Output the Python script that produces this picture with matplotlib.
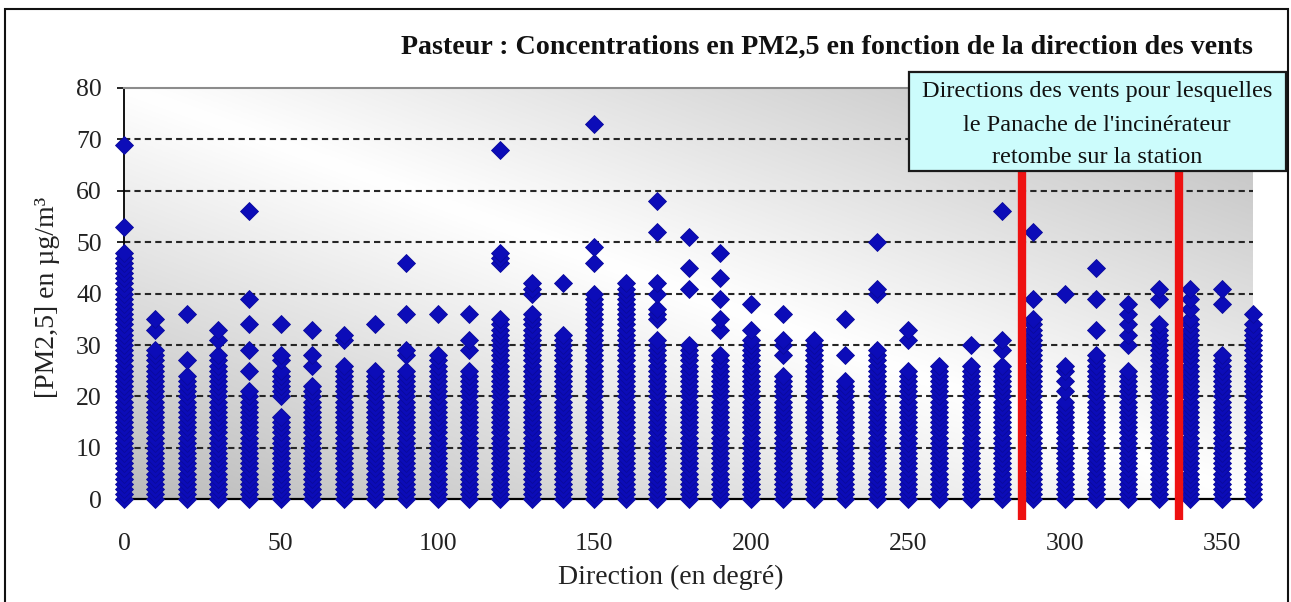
import numpy as np
import matplotlib
matplotlib.use("Agg")
import matplotlib.pyplot as plt
from matplotlib.colors import LinearSegmentedColormap
from matplotlib.patches import Rectangle

plt.rcParams['font.family'] = ['Liberation Serif', 'DejaVu Serif']

# wind direction classes (degrees)
directions = [0, 10, 20, 30, 40, 50, 60, 70, 80, 90, 100, 110, 120, 130, 140, 150, 160, 170, 180,
              190, 200, 210, 220, 230, 240, 250, 260, 270, 280, 290, 300, 310, 320, 330, 340, 350, 360]

# PM2.5 readings (µg/m3) observed for each direction class
pm25 = [
    # 0
    [0, 1, 2, 3, 4, 5, 6, 7, 8, 9, 10, 11, 12, 13, 14, 15, 16, 17, 18, 19, 20, 21, 22, 23, 24, 25,
     26, 27, 28, 29, 30, 31, 32, 33, 34, 35, 36, 37, 38, 39, 40, 41, 42, 43, 44, 45, 46, 47, 48, 53, 69],
    # 10
    [0, 1, 2, 3, 4, 5, 6, 7, 8, 9, 10, 11, 12, 13, 14, 15, 16, 17, 18, 19, 20, 21, 22, 23, 24, 25,
     26, 27, 28, 29, 33, 35],
    # 20
    [0, 1, 2, 3, 4, 5, 6, 7, 8, 9, 10, 11, 12, 13, 14, 15, 16, 17, 18, 19, 20, 21, 22, 23, 24, 27, 36],
    # 30
    [0, 1, 2, 3, 4, 5, 6, 7, 8, 9, 10, 11, 12, 13, 14, 15, 16, 17, 18, 19, 20, 21, 22, 23, 24, 25,
     26, 27, 28, 31, 33],
    # 40
    [0, 1, 2, 3, 4, 5, 6, 7, 8, 9, 10, 11, 12, 13, 14, 15, 16, 17, 18, 19, 20, 21, 25, 29, 34, 39, 56],
    # 50
    [0, 1, 2, 3, 4, 5, 6, 7, 8, 9, 10, 11, 12, 13, 14, 15, 16, 20, 21, 22, 23, 24, 25, 27, 28, 34],
    # 60
    [0, 1, 2, 3, 4, 5, 6, 7, 8, 9, 10, 11, 12, 13, 14, 15, 16, 17, 18, 19, 20, 21, 22, 26, 28, 33],
    # 70
    [0, 1, 2, 3, 4, 5, 6, 7, 8, 9, 10, 11, 12, 13, 14, 15, 16, 17, 18, 19, 20, 21, 22, 23, 24, 25,
     26, 31, 32],
    # 80
    [0, 1, 2, 3, 4, 5, 6, 7, 8, 9, 10, 11, 12, 13, 14, 15, 16, 17, 18, 19, 20, 21, 22, 23, 24, 25, 34],
    # 90
    [0, 1, 2, 3, 4, 5, 6, 7, 8, 9, 10, 11, 12, 13, 14, 15, 16, 17, 18, 19, 20, 21, 22, 23, 24, 25,
     28, 29, 36, 46],
    # 100
    [0, 1, 2, 3, 4, 5, 6, 7, 8, 9, 10, 11, 12, 13, 14, 15, 16, 17, 18, 19, 20, 21, 22, 23, 24, 25,
     26, 27, 28, 36],
    # 110
    [0, 1, 2, 3, 4, 5, 6, 7, 8, 9, 10, 11, 12, 13, 14, 15, 16, 17, 18, 19, 20, 21, 22, 23, 24, 25,
     29, 31, 36],
    # 120
    [0, 1, 2, 3, 4, 5, 6, 7, 8, 9, 10, 11, 12, 13, 14, 15, 16, 17, 18, 19, 20, 21, 22, 23, 24, 25,
     26, 27, 28, 29, 30, 31, 32, 33, 34, 35, 46, 47, 48, 68],
    # 130
    [0, 1, 2, 3, 4, 5, 6, 7, 8, 9, 10, 11, 12, 13, 14, 15, 16, 17, 18, 19, 20, 21, 22, 23, 24, 25,
     26, 27, 28, 29, 30, 31, 32, 33, 34, 35, 36, 40, 41, 42],
    # 140
    [0, 1, 2, 3, 4, 5, 6, 7, 8, 9, 10, 11, 12, 13, 14, 15, 16, 17, 18, 19, 20, 21, 22, 23, 24, 25,
     26, 27, 28, 29, 30, 31, 32, 42],
    # 150
    [0, 1, 2, 3, 4, 5, 6, 7, 8, 9, 10, 11, 12, 13, 14, 15, 16, 17, 18, 19, 20, 21, 22, 23, 24, 25,
     26, 27, 28, 29, 30, 31, 32, 33, 34, 35, 36, 37, 38, 39, 40, 46, 49, 73],
    # 160
    [0, 1, 2, 3, 4, 5, 6, 7, 8, 9, 10, 11, 12, 13, 14, 15, 16, 17, 18, 19, 20, 21, 22, 23, 24, 25,
     26, 27, 28, 29, 30, 31, 32, 33, 34, 35, 36, 37, 38, 39, 40, 41, 42],
    # 170
    [0, 1, 2, 3, 4, 5, 6, 7, 8, 9, 10, 11, 12, 13, 14, 15, 16, 17, 18, 19, 20, 21, 22, 23, 24, 25,
     26, 27, 28, 29, 30, 31, 35, 36, 37, 40, 42, 52, 58],
    # 180
    [0, 1, 2, 3, 4, 5, 6, 7, 8, 9, 10, 11, 12, 13, 14, 15, 16, 17, 18, 19, 20, 21, 22, 23, 24, 25,
     26, 27, 28, 29, 30, 41, 45, 51],
    # 190
    [0, 1, 2, 3, 4, 5, 6, 7, 8, 9, 10, 11, 12, 13, 14, 15, 16, 17, 18, 19, 20, 21, 22, 23, 24, 25,
     26, 27, 28, 33, 35, 39, 43, 48],
    # 200
    [0, 1, 2, 3, 4, 5, 6, 7, 8, 9, 10, 11, 12, 13, 14, 15, 16, 17, 18, 19, 20, 21, 22, 23, 24, 25,
     26, 27, 28, 29, 30, 31, 33, 38],
    # 210
    [0, 1, 2, 3, 4, 5, 6, 7, 8, 9, 10, 11, 12, 13, 14, 15, 16, 17, 18, 19, 20, 21, 22, 23, 24,
     28, 30, 31, 36],
    # 220
    [0, 1, 2, 3, 4, 5, 6, 7, 8, 9, 10, 11, 12, 13, 14, 15, 16, 17, 18, 19, 20, 21, 22, 23, 24, 25,
     26, 27, 28, 29, 30, 31],
    # 230
    [0, 1, 2, 3, 4, 5, 6, 7, 8, 9, 10, 11, 12, 13, 14, 15, 16, 17, 18, 19, 20, 21, 22, 23, 28, 35],
    # 240
    [0, 1, 2, 3, 4, 5, 6, 7, 8, 9, 10, 11, 12, 13, 14, 15, 16, 17, 18, 19, 20, 21, 22, 23, 24, 25,
     26, 27, 28, 29, 40, 41, 50],
    # 250
    [0, 1, 2, 3, 4, 5, 6, 7, 8, 9, 10, 11, 12, 13, 14, 15, 16, 17, 18, 19, 20, 21, 22, 23, 24, 25,
     31, 33],
    # 260
    [0, 1, 2, 3, 4, 5, 6, 7, 8, 9, 10, 11, 12, 13, 14, 15, 16, 17, 18, 19, 20, 21, 22, 23, 24, 25, 26],
    # 270
    [0, 1, 2, 3, 4, 5, 6, 7, 8, 9, 10, 11, 12, 13, 14, 15, 16, 17, 18, 19, 20, 21, 22, 23, 24, 25,
     26, 30],
    # 280
    [0, 1, 2, 3, 4, 5, 6, 7, 8, 9, 10, 11, 12, 13, 14, 15, 16, 17, 18, 19, 20, 21, 22, 23, 24, 25,
     26, 29, 31, 56],
    # 290
    [0, 1, 2, 3, 4, 5, 6, 7, 8, 9, 10, 11, 12, 13, 14, 15, 16, 17, 18, 19, 20, 21, 22, 23, 24, 25,
     26, 27, 28, 29, 30, 31, 32, 33, 34, 35, 39, 52],
    # 300
    [0, 1, 2, 3, 4, 5, 6, 7, 8, 9, 10, 11, 12, 13, 14, 15, 16, 17, 18, 19, 21, 23, 25, 26, 40],
    # 310
    [0, 1, 2, 3, 4, 5, 6, 7, 8, 9, 10, 11, 12, 13, 14, 15, 16, 17, 18, 19, 20, 21, 22, 23, 24, 25,
     26, 27, 28, 33, 39, 45],
    # 320
    [0, 1, 2, 3, 4, 5, 6, 7, 8, 9, 10, 11, 12, 13, 14, 15, 16, 17, 18, 19, 20, 21, 22, 23, 24, 25,
     30, 32, 34, 36, 38],
    # 330
    [0, 1, 2, 3, 4, 5, 6, 7, 8, 9, 10, 11, 12, 13, 14, 15, 16, 17, 18, 19, 20, 21, 22, 23, 24, 25,
     26, 27, 28, 29, 30, 31, 32, 33, 34, 39, 41],
    # 340
    [0, 1, 2, 3, 4, 5, 6, 7, 8, 9, 10, 11, 12, 13, 14, 15, 16, 17, 18, 19, 20, 21, 22, 23, 24, 25,
     26, 27, 28, 29, 30, 31, 32, 33, 34, 35, 37, 39, 41],
    # 350
    [0, 1, 2, 3, 4, 5, 6, 7, 8, 9, 10, 11, 12, 13, 14, 15, 16, 17, 18, 19, 20, 21, 22, 23, 24, 25,
     26, 27, 28, 38, 41],
    # 360
    [0, 1, 2, 3, 4, 5, 6, 7, 8, 9, 10, 11, 12, 13, 14, 15, 16, 17, 18, 19, 20, 21, 22, 23, 24, 25,
     26, 27, 28, 29, 30, 31, 32, 33, 34, 36],
]

# directions for which the incinerator plume falls back on the station
plume_bounds = [286.5, 336.3]

x_ticks = [0, 50, 100, 150, 200, 250, 300, 350]
y_ticks = [0, 10, 20, 30, 40, 50, 60, 70, 80]

W, H = 1291, 602
fig = plt.figure(figsize=(W / 100, H / 100), dpi=100)

# axes placed in pixel units
ax_l, ax_r, ax_t, ax_b = 124, 1253, 88, 499.3
ax = fig.add_axes([ax_l / W, 1 - ax_b / H, (ax_r - ax_l) / W, (ax_b - ax_t) / H])

# diagonal grey -> white -> grey plot area fill
gx, gy = np.meshgrid(np.linspace(0, 1, 300), np.linspace(0, 1, 150))
shade = np.abs(gx + gy - 1)
grey_cmap = LinearSegmentedColormap.from_list('fill', ['#ffffff', '#bbbbbb'])
ax.imshow(shade, extent=[0, 1, 0, 1], origin='lower', transform=ax.transAxes,
          cmap=grey_cmap, vmin=0, vmax=1, aspect='auto', interpolation='bilinear', zorder=0)

for v in y_ticks[1:-1]:
    ax.axhline(v, color='#262626', lw=1.5, ls=(0, (3, 2)), zorder=1)

xs = np.concatenate([[d] * len(vals) for d, vals in zip(directions, pm25)])
ys = np.concatenate(pm25)
ax.plot(xs, ys, linestyle='none', marker='D', markersize=9,
        markerfacecolor='#0c0cb8', markeredgecolor='#0a0a9c', markeredgewidth=0.6,
        clip_on=False, zorder=3)

for xb in plume_bounds:
    ax.plot([xb, xb], [-4, 64], color='#ee1111', lw=6, solid_capstyle='butt',
            clip_on=False, zorder=4)

ax.set_xlim(0, 360)
ax.set_ylim(0, 80)
ax.set_xticks(x_ticks)
ax.set_yticks(y_ticks)
ax.tick_params(axis='both', direction='out', length=5, width=1.2, labelsize=18.5)
ax.tick_params(axis='x', pad=19)
ax.tick_params(axis='y', pad=11)
for lab in ax.get_xticklabels() + ax.get_yticklabels():
    lab.set_color('#222222')

ax.spines['right'].set_visible(False)
ax.spines['top'].set_color('#8c8c8c')
ax.spines['top'].set_linewidth(1.5)
ax.spines['left'].set_linewidth(1.3)
ax.spines['bottom'].set_linewidth(1.6)

fig.text(ax_r / W, 1 - 53.5 / H,
         'Pasteur : Concentrations en PM2,5 en fonction de la direction des vents',
         ha='right', va='baseline', fontsize=20.2, fontweight='bold', color='#111111')
fig.text(670.5 / W, 1 - 584 / H, 'Direction (en degré)', ha='center', va='baseline',
         fontsize=20, color='#222222')
fig.text(47 / W, 1 - 297 / H, '[PM2,5] en µg/m³', rotation=90, ha='center', va='center',
         fontsize=20, color='#222222')

# callout box
bx0, bx1, by0, by1 = 909, 1286, 72, 171
fig.patches.append(Rectangle((bx0 / W, 1 - by1 / H), (bx1 - bx0) / W, (by1 - by0) / H,
                             transform=fig.transFigure, facecolor='#ccfcfc',
                             edgecolor='#1a1a1a', lw=1.6, zorder=5))
box_lines = ['Directions des vents pour lesquelles',
             "le Panache de l'incinérateur",
             'retombe sur la station']
for line, base in zip(box_lines, [96.5, 131, 163]):
    fig.text(1097 / W, 1 - base / H, line, ha='center', va='baseline',
             fontsize=17.5, color='#111111', zorder=6)

# outer frame
fig.patches.append(Rectangle((5 / W, -0.02), 1283 / W, 1 - 9 / H + 0.02,
                             transform=fig.transFigure, fill=False,
                             edgecolor='#111111', lw=1.5, zorder=7))

fig.savefig('out.png', dpi=100)
